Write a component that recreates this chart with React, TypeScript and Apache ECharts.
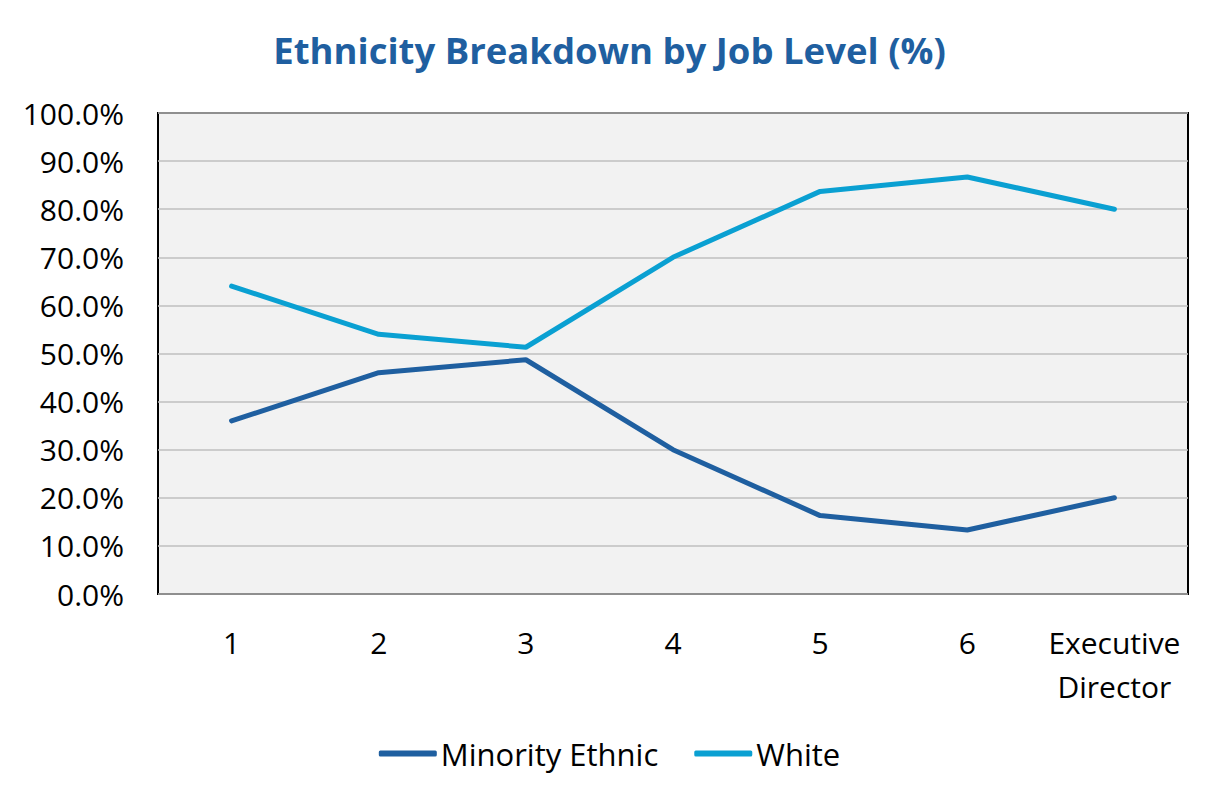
import { useEffect, useRef } from "react";
import * as echarts from "echarts";

const levels = ["1", "2", "3", "4", "5", "6", "Executive\nDirector"];
const minorityEthnic = [36.0, 46.0, 48.7, 30.0, 16.3, 13.3, 20.0];
const white = [64.0, 54.0, 51.3, 70.0, 83.7, 86.7, 80.0];

const FONT = "'Open Sans', 'Noto Sans', sans-serif";

export default function App() {
  const ref = useRef<HTMLDivElement>(null);

  useEffect(() => {
    document.body.style.margin = "0";
    if (!ref.current) return;
    const chart = echarts.init(ref.current, undefined, { renderer: "svg" });
    chart.setOption({
      animation: false,
      backgroundColor: "#ffffff",
      textStyle: { fontFamily: FONT },
      title: {
        text: "Ethnicity Breakdown by Job Level (%)",
        left: "center",
        top: 26,
        textStyle: { fontFamily: FONT, fontSize: 36.5, fontWeight: "bold", color: "#1f5fa0" },
      },
      grid: {
        left: 158,
        right: 31,
        top: 113,
        bottom: 208,
        show: true,
        backgroundColor: "#f2f2f2",
        borderColor: "#000000",
        borderWidth: 2,
      },
      legend: {
        bottom: 28,
        left: "center",
        icon: "roundRect",
        itemWidth: 58,
        itemHeight: 6,
        itemGap: 36,
        textStyle: { fontFamily: FONT, fontSize: 31, color: "#000000", padding: [0, 0, 0, -1] },
        data: ["Minority Ethnic", "White"],
      },
      xAxis: {
        type: "category",
        data: levels,
        boundaryGap: true,
        axisLine: { show: false },
        axisTick: { show: false },
        axisLabel: {
          interval: 0,
          margin: 26,
          fontFamily: FONT,
          fontSize: 30,
          color: "#000000",
          lineHeight: 44,
          verticalAlign: "top",
        },
      },
      yAxis: {
        type: "value",
        min: 0,
        max: 100,
        interval: 10,
        axisLine: { show: false },
        axisTick: { show: false },
        splitLine: { lineStyle: { color: "#bfbfbf", width: 1.5 } },
        axisLabel: {
          margin: 34,
          fontFamily: FONT,
          fontSize: 30,
          color: "#000000",
          formatter: (v: number) => v.toFixed(1) + "%",
        },
      },
      series: [
        {
          name: "Minority Ethnic",
          type: "line",
          data: minorityEthnic,
          symbol: "none",
          itemStyle: { color: "#1f5fa0" },
          lineStyle: { color: "#1f5fa0", width: 5, cap: "round" },
        },
        {
          name: "White",
          type: "line",
          data: white,
          symbol: "none",
          itemStyle: { color: "#0aa0d2" },
          lineStyle: { color: "#0aa0d2", width: 5, cap: "round" },
        },
      ],
    });
    return () => chart.dispose();
  }, []);

  return <div ref={ref} style={{ width: 1219, height: 802 }} />;
}
